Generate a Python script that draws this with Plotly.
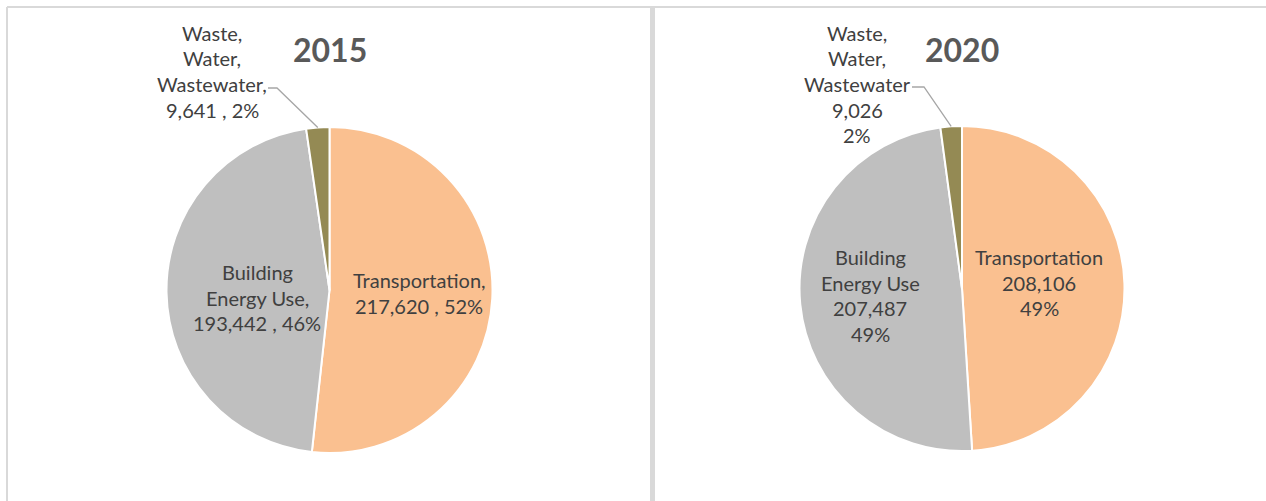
import math
import plotly.graph_objects as go

# ---------------- data ----------------
categories = ["Transportation", "Building Energy Use", "Waste, Water, Wastewater"]
values_2015 = [217620, 193442, 9641]
values_2020 = [208106, 207487, 9026]
years = ["2015", "2020"]
colors = ["#FAC090", "#BFBFBF", "#948A54"]

# how category names wrap in the labels
name_lines = {
    "Transportation": ["Transportation"],
    "Building Energy Use": ["Building", "Energy Use"],
    "Waste, Water, Wastewater": ["Waste,", "Water,", "Wastewater"],
}

# ---------------- layout helpers ----------------
W, H = 1266, 501
def px(x):
    return x / W
def py(y):
    return 1 - y / H

FONT = "Lato"
LABEL_COLOR = "#404040"
TITLE_COLOR = "#595959"
LINE_GAP = 25.5

# pie geometry (pixel centre, radius)
pies = [
    dict(year="2015", values=values_2015, cx=329.5, cy=290.0, r=163.0, style="comma",
         anchors=[(419, 280), (257, 272), (212, 33)],
         leader=[(268, 88), (277, 88)]),
    dict(year="2020", values=values_2020, cx=962.0, cy=288.5, r=162.5, style="stack",
         anchors=[(1039, 257), (870, 257), (857, 33)],
         leader=[(912, 87), (924, 87)]),
]

fig = go.Figure()
annotations = []
shapes = []

for p in pies:
    cx, cy, r = p["cx"], p["cy"], p["r"]
    fig.add_trace(go.Pie(
        labels=categories,
        values=p["values"],
        sort=False,
        direction="clockwise",
        rotation=0,
        marker=dict(colors=colors, line=dict(color="white", width=2)),
        textinfo="none",
        hoverinfo="label+value+percent",
        showlegend=False,
        domain=dict(x=[px(cx - r), px(cx + r)], y=[py(cy + r), py(cy - r)]),
    ))
    total = sum(p["values"])
    for i, (cat, v) in enumerate(zip(categories, p["values"])):
        pct = round(100 * v / total)
        nl = list(name_lines[cat])
        if p["style"] == "comma":
            nl[-1] = nl[-1] + ","
            lines = nl + [f"{v:,} , {pct}%"]
        else:
            lines = nl + [f"{v:,}", f"{pct}%"]
        ax, ay = p["anchors"][i]
        for k, t in enumerate(lines):
            annotations.append(dict(
                x=px(ax), y=py(ay + k * LINE_GAP), xref="paper", yref="paper",
                text=t, showarrow=False, xanchor="center", yanchor="middle",
                font=dict(family=FONT, size=20, color=LABEL_COLOR),
            ))
    # leader line to the mid-angle of the small slice
    cum = sum(p["values"][:2])
    mid = (cum + p["values"][2] / 2) / total * 2 * math.pi
    ex = cx + r * math.sin(mid)
    ey = cy - r * math.cos(mid)
    (x0, y0), (x1, y1) = p["leader"]
    shapes.append(dict(
        type="path", xref="paper", yref="paper",
        path=f"M {px(x0)},{py(y0)} L {px(x1)},{py(y1)} L {px(ex)},{py(ey)}",
        line=dict(color="#A6A6A6", width=1.3),
    ))
    # title
    annotations.append(dict(
        x=px(cx), y=py(49), xref="paper", yref="paper", text=f"<b>{p['year']}</b>",
        showarrow=False, xanchor="center", yanchor="middle",
        font=dict(family=FONT, size=32, color=TITLE_COLOR),
    ))

# panel borders
BORDER = "#D9D9D9"
shapes += [
    dict(type="line", xref="paper", yref="paper", x0=px(7), x1=px(W), y0=py(7), y1=py(7),
         line=dict(color=BORDER, width=2), layer="below"),
    dict(type="line", xref="paper", yref="paper", x0=px(7), x1=px(7), y0=py(7), y1=py(H + 5),
         line=dict(color=BORDER, width=2), layer="below"),
    dict(type="rect", xref="paper", yref="paper", x0=px(650), x1=px(655), y0=py(7), y1=py(H + 5),
         fillcolor=BORDER, line=dict(width=0), layer="below"),
]

fig.update_layout(
    width=W, height=H,
    margin=dict(l=0, r=0, t=0, b=0),
    paper_bgcolor="white",
    plot_bgcolor="white",
    annotations=annotations,
    shapes=shapes,
)

fig.write_html(
    "out.html",
    config={"displayModeBar": False},
    post_script="document.body.style.margin='0';document.body.style.padding='0';"
                "document.documentElement.style.overflow='hidden';",
)
